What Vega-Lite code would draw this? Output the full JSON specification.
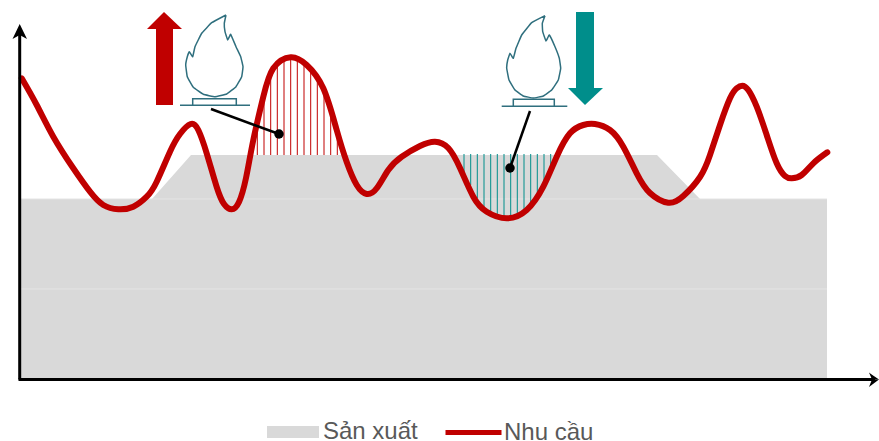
{"$schema":"https://vega.github.io/schema/vega-lite/v6.json","width":879,"height":441,"autosize":{"type":"none"},"padding":0,"background":"white","config":{"view":{"stroke":null},"font":"Liberation Sans"},
"datasets":{
"production":[{"series":"Sản xuất","x":0,"y":181},{"series":"Sản xuất","x":132,"y":181},{"series":"Sản xuất","x":171,"y":225},{"series":"Sản xuất","x":637,"y":225},{"series":"Sản xuất","x":680,"y":181},{"series":"Sản xuất","x":807,"y":181}],
"grid":[{"g":"a","x":0,"y":181},{"g":"a","x":807,"y":181},{"g":"b","x":0,"y":91},{"g":"b","x":807,"y":91}],
"demand":[{"series":"Nhu cầu","x":1.7,"y":301.7},{"series":"Nhu cầu","x":16.7,"y":275},{"series":"Nhu cầu","x":33.3,"y":243.3},{"series":"Nhu cầu","x":53.3,"y":211.7},{"series":"Nhu cầu","x":70,"y":188.3},{"series":"Nhu cầu","x":83.3,"y":175},{"series":"Nhu cầu","x":98.3,"y":170.7},{"series":"Nhu cầu","x":113.3,"y":173.3},{"series":"Nhu cầu","x":126.7,"y":183.3},{"series":"Nhu cầu","x":136.7,"y":198.3},{"series":"Nhu cầu","x":150,"y":228.3},{"series":"Nhu cầu","x":160,"y":246},{"series":"Nhu cầu","x":170.7,"y":256},{"series":"Nhu cầu","x":178.3,"y":250},{"series":"Nhu cầu","x":186.7,"y":226.7},{"series":"Nhu cầu","x":196.7,"y":193},{"series":"Nhu cầu","x":204,"y":176},{"series":"Nhu cầu","x":211.7,"y":170.7},{"series":"Nhu cầu","x":219,"y":178},{"series":"Nhu cầu","x":226,"y":202},{"series":"Nhu cầu","x":233.3,"y":240},{"series":"Nhu cầu","x":243.3,"y":283.3},{"series":"Nhu cầu","x":253.3,"y":311.7},{"series":"Nhu cầu","x":270.7,"y":322.7},{"series":"Nhu cầu","x":286.7,"y":315},{"series":"Nhu cầu","x":303.3,"y":291.7},{"series":"Nhu cầu","x":316.7,"y":250},{"series":"Nhu cầu","x":326.7,"y":218},{"series":"Nhu cầu","x":336.7,"y":195},{"series":"Nhu cầu","x":346.7,"y":186},{"series":"Nhu cầu","x":356.7,"y":191.7},{"series":"Nhu cầu","x":368.3,"y":210},{"series":"Nhu cầu","x":381.7,"y":223.3},{"series":"Nhu cầu","x":400,"y":234},{"series":"Nhu cầu","x":415,"y":238.3},{"series":"Nhu cầu","x":428.3,"y":232},{"series":"Nhu cầu","x":440,"y":212},{"series":"Nhu cầu","x":453.3,"y":183.3},{"series":"Nhu cầu","x":466.7,"y":168.3},{"series":"Nhu cầu","x":486.7,"y":161.7},{"series":"Nhu cầu","x":506.7,"y":170},{"series":"Nhu cầu","x":523.3,"y":193.3},{"series":"Nhu cầu","x":536.7,"y":223.3},{"series":"Nhu cầu","x":550,"y":246.7},{"series":"Nhu cầu","x":563.3,"y":255},{"series":"Nhu cầu","x":575,"y":256},{"series":"Nhu cầu","x":590,"y":250},{"series":"Nhu cầu","x":603.3,"y":233.3},{"series":"Nhu cầu","x":616.7,"y":206.7},{"series":"Nhu cầu","x":630,"y":187},{"series":"Nhu cầu","x":648.3,"y":177.3},{"series":"Nhu cầu","x":663.3,"y":184},{"series":"Nhu cầu","x":680,"y":203},{"series":"Nhu cầu","x":690,"y":225},{"series":"Nhu cầu","x":700,"y":255},{"series":"Nhu cầu","x":710,"y":281.7},{"series":"Nhu cầu","x":716.7,"y":291.7},{"series":"Nhu cầu","x":722.3,"y":294.3},{"series":"Nhu cầu","x":728.3,"y":290},{"series":"Nhu cầu","x":736.7,"y":273.3},{"series":"Nhu cầu","x":746.7,"y":245},{"series":"Nhu cầu","x":756.7,"y":216.7},{"series":"Nhu cầu","x":765,"y":204},{"series":"Nhu cầu","x":771.7,"y":201.7},{"series":"Nhu cầu","x":781.7,"y":205},{"series":"Nhu cầu","x":793.3,"y":216.7},{"series":"Nhu cầu","x":807.3,"y":227.7}],
"surplus":[{"x":237.3,"a":225,"b":255},{"x":244,"a":225,"b":285},{"x":250.7,"a":225,"b":305},{"x":257.3,"a":225,"b":317},{"x":264,"a":225,"b":321},{"x":270.7,"a":225,"b":323},{"x":277.3,"a":225,"b":321},{"x":284,"a":225,"b":317},{"x":290.7,"a":225,"b":310},{"x":297.3,"a":225,"b":303},{"x":304,"a":225,"b":292},{"x":310.7,"a":225,"b":272},{"x":317.3,"a":225,"b":250}],
"deficit":[{"x":444,"a":226,"b":208},{"x":450.7,"a":226,"b":195},{"x":457.3,"a":226,"b":182},{"x":464,"a":226,"b":172},{"x":470.7,"a":226,"b":167},{"x":477.3,"a":226,"b":164},{"x":484,"a":226,"b":162},{"x":490.7,"a":226,"b":163},{"x":497.3,"a":226,"b":165},{"x":504,"a":226,"b":169},{"x":510.7,"a":226,"b":174},{"x":517.3,"a":226,"b":180},{"x":524,"a":226,"b":196},{"x":530.7,"a":226,"b":214}],
"arrowUp":[{"p":"h","x":127,"a":351,"b":351},{"p":"h","x":144,"a":368,"b":351},{"p":"h","x":162,"a":351,"b":351},{"p":"s","x":136,"a":351,"b":275},{"p":"s","x":153,"a":351,"b":275}],
"arrowDown":[{"p":"h","x":548,"a":292,"b":292},{"p":"h","x":565,"a":292,"b":275},{"p":"h","x":583,"a":292,"b":292},{"p":"s","x":556,"a":368,"b":292},{"p":"s","x":574,"a":368,"b":292}],
"flames":[
{"p":"f1","i":0,"x":206,"y":365},{"p":"f1","i":1,"x":204.3,"y":356.7},{"p":"f1","i":2,"x":205,"y":348.3},{"p":"f1","i":3,"x":207.7,"y":340},{"p":"f1","i":4,"x":210.7,"y":345.7},{"p":"f1","i":5,"x":216,"y":333.3},{"p":"f1","i":6,"x":220.7,"y":323.3},{"p":"f1","i":7,"x":223,"y":313.3},{"p":"f1","i":8,"x":221.7,"y":303.3},{"p":"f1","i":9,"x":216,"y":293.3},{"p":"f1","i":10,"x":206.7,"y":286},{"p":"f1","i":11,"x":195,"y":283.3},{"p":"f1","i":12,"x":183.3,"y":285.7},{"p":"f1","i":13,"x":173.3,"y":292.7},{"p":"f1","i":14,"x":167.3,"y":303.3},{"p":"f1","i":15,"x":165.7,"y":315},{"p":"f1","i":16,"x":167.3,"y":323.3},{"p":"f1","i":17,"x":169.3,"y":328.3},{"p":"f1","i":18,"x":172.7,"y":323.3},{"p":"f1","i":19,"x":175,"y":333.3},{"p":"f1","i":20,"x":181.7,"y":346.7},{"p":"f1","i":21,"x":191.7,"y":357.3},{"p":"f1","i":22,"x":206,"y":365},
{"p":"b1","i":0,"x":172.7,"y":275},{"p":"b1","i":1,"x":172.7,"y":281.3},{"p":"b1","i":2,"x":216.3,"y":281.3},{"p":"b1","i":3,"x":216.3,"y":275},
{"p":"l1","i":0,"x":160,"y":274.7},{"p":"l1","i":1,"x":230,"y":274.7},
{"p":"f2","i":0,"x":525,"y":364.3},{"p":"f2","i":1,"x":522.3,"y":356.7},{"p":"f2","i":2,"x":522.7,"y":348.3},{"p":"f2","i":3,"x":526,"y":339},{"p":"f2","i":4,"x":529.3,"y":345},{"p":"f2","i":5,"x":535,"y":333.3},{"p":"f2","i":6,"x":539.3,"y":321.7},{"p":"f2","i":7,"x":540.7,"y":311.7},{"p":"f2","i":8,"x":538.3,"y":300},{"p":"f2","i":9,"x":531.7,"y":290},{"p":"f2","i":10,"x":523.3,"y":284},{"p":"f2","i":11,"x":513.3,"y":282},{"p":"f2","i":12,"x":503.3,"y":284},{"p":"f2","i":13,"x":495,"y":290},{"p":"f2","i":14,"x":489,"y":300},{"p":"f2","i":15,"x":486.7,"y":311.7},{"p":"f2","i":16,"x":487.7,"y":320},{"p":"f2","i":17,"x":490,"y":326.7},{"p":"f2","i":18,"x":493.3,"y":321.7},{"p":"f2","i":19,"x":496,"y":331.7},{"p":"f2","i":20,"x":501.7,"y":345},{"p":"f2","i":21,"x":511.7,"y":357.3},{"p":"f2","i":22,"x":525,"y":364.3},
{"p":"b2","i":0,"x":493.3,"y":274},{"p":"b2","i":1,"x":493.3,"y":280.7},{"p":"b2","i":2,"x":534.3,"y":280.7},{"p":"b2","i":3,"x":534.3,"y":274},
{"p":"l2","i":0,"x":481.7,"y":273.7},{"p":"l2","i":1,"x":547.3,"y":273.7}],
"callouts":[{"p":"c1","i":0,"x":191,"y":271},{"p":"c1","i":1,"x":259,"y":246},{"p":"c2","i":0,"x":510,"y":269},{"p":"c2","i":1,"x":490,"y":212}],
"dots":[{"x":259,"y":246},{"x":490,"y":212}],
"axes":[{"p":"x","i":0,"x":-1.5,"y":0.5},{"p":"x","i":1,"x":855,"y":0.5},{"p":"y","i":0,"x":-0.3,"y":0.5},{"p":"y","i":1,"x":-0.3,"y":348}],
"heads":[{"p":"r1","x":849,"a":7.5,"b":7.5},{"p":"r1","x":852,"a":5.3,"b":0.5},{"p":"r1","x":859,"a":0.5,"b":0.5},{"p":"r2","x":849,"a":-7,"b":-7},{"p":"r2","x":852,"a":0.5,"b":-4.8},{"p":"r2","x":859,"a":0.5,"b":0.5},{"p":"t","x":-7.5,"a":341,"b":341},{"p":"t","x":-0.3,"a":356,"b":345},{"p":"t","x":7,"a":341,"b":341}]
},
"encoding":{"x":{"type":"quantitative","scale":{"domain":[-20,859],"nice":false,"zero":false},"axis":null},"y":{"type":"quantitative","scale":{"domain":[-61,380],"nice":false,"zero":false},"axis":null}},
"layer":[
{"data":{"name":"production"},"mark":{"type":"area","interpolate":"linear","clip":false},"encoding":{"x":{"field":"x","type":"quantitative"},"y":{"field":"y","type":"quantitative","stack":null},"fill":{"field":"series","type":"nominal","scale":{"domain":["Sản xuất"],"range":["#d9d9d9"]},"legend":{"title":null,"orient":"none","legendX":266,"legendY":405,"symbolType":"M-1,-0.23H1V0.23H-1Z","symbolSize":2704,"symbolOpacity":1,"labelFontSize":24,"labelColor":"#595959","labelFont":"Liberation Sans","labelOffset":3,"labelLimit":200}}}},
{"data":{"name":"grid"},"mark":{"type":"line","stroke":"#e4e4e4","strokeWidth":1},"encoding":{"x":{"field":"x","type":"quantitative"},"y":{"field":"y","type":"quantitative"},"detail":{"field":"g"}}},
{"data":{"name":"surplus"},"mark":{"type":"rule","stroke":"#c00000","strokeWidth":1},"encoding":{"x":{"field":"x","type":"quantitative"},"y":{"field":"a","type":"quantitative"},"y2":{"field":"b"}}},
{"data":{"name":"deficit"},"mark":{"type":"rule","stroke":"#008e8b","strokeWidth":1},"encoding":{"x":{"field":"x","type":"quantitative"},"y":{"field":"a","type":"quantitative"},"y2":{"field":"b"}}},
{"data":{"name":"demand"},"mark":{"type":"line","interpolate":"natural","strokeWidth":6,"strokeCap":"round","strokeJoin":"round"},"encoding":{"x":{"field":"x","type":"quantitative"},"y":{"field":"y","type":"quantitative"},"stroke":{"field":"series","type":"nominal","scale":{"domain":["Nhu cầu"],"range":["#c00000"]},"legend":{"title":null,"orient":"none","legendX":443,"legendY":402,"symbolType":"stroke","symbolSize":3136,"symbolStrokeWidth":5,"labelFontSize":24,"labelColor":"#595959","labelFont":"Liberation Sans","labelOffset":0,"labelLimit":200}}}},
{"data":{"name":"arrowUp"},"mark":{"type":"area","interpolate":"linear","fill":"#c00000"},"encoding":{"x":{"field":"x","type":"quantitative"},"y":{"field":"a","type":"quantitative","stack":null},"y2":{"field":"b"},"detail":{"field":"p"}}},
{"data":{"name":"arrowDown"},"mark":{"type":"area","interpolate":"linear","fill":"#008e8b"},"encoding":{"x":{"field":"x","type":"quantitative"},"y":{"field":"a","type":"quantitative","stack":null},"y2":{"field":"b"},"detail":{"field":"p"}}},
{"data":{"name":"flames"},"transform":[{"filter":"datum.p=='f1'||datum.p=='f2'"}],"mark":{"type":"line","interpolate":"cardinal","tension":0.75,"stroke":"#2f6f7e","strokeWidth":1.5},"encoding":{"x":{"field":"x","type":"quantitative"},"y":{"field":"y","type":"quantitative"},"detail":{"field":"p"},"order":{"field":"i","type":"quantitative"}}},
{"data":{"name":"flames"},"transform":[{"filter":"datum.p!='f1'&&datum.p!='f2'"}],"mark":{"type":"line","interpolate":"linear","stroke":"#2f6f7e","strokeWidth":1.5},"encoding":{"x":{"field":"x","type":"quantitative"},"y":{"field":"y","type":"quantitative"},"detail":{"field":"p"},"order":{"field":"i","type":"quantitative"}}},
{"data":{"name":"callouts"},"mark":{"type":"line","stroke":"#000000","strokeWidth":2.5},"encoding":{"x":{"field":"x","type":"quantitative"},"y":{"field":"y","type":"quantitative"},"detail":{"field":"p"},"order":{"field":"i","type":"quantitative"}}},
{"data":{"name":"dots"},"mark":{"type":"point","filled":true,"fill":"#000000","opacity":1,"size":90},"encoding":{"x":{"field":"x","type":"quantitative"},"y":{"field":"y","type":"quantitative"}}},
{"data":{"name":"axes"},"mark":{"type":"line","stroke":"#000000","strokeWidth":3},"encoding":{"x":{"field":"x","type":"quantitative"},"y":{"field":"y","type":"quantitative"},"detail":{"field":"p"},"order":{"field":"i","type":"quantitative"}}},
{"data":{"name":"heads"},"mark":{"type":"area","interpolate":"linear","fill":"#000000"},"encoding":{"x":{"field":"x","type":"quantitative"},"y":{"field":"a","type":"quantitative","stack":null},"y2":{"field":"b"},"detail":{"field":"p"}}}
],
"resolve":{"scale":{"fill":"independent","stroke":"independent"}}}
